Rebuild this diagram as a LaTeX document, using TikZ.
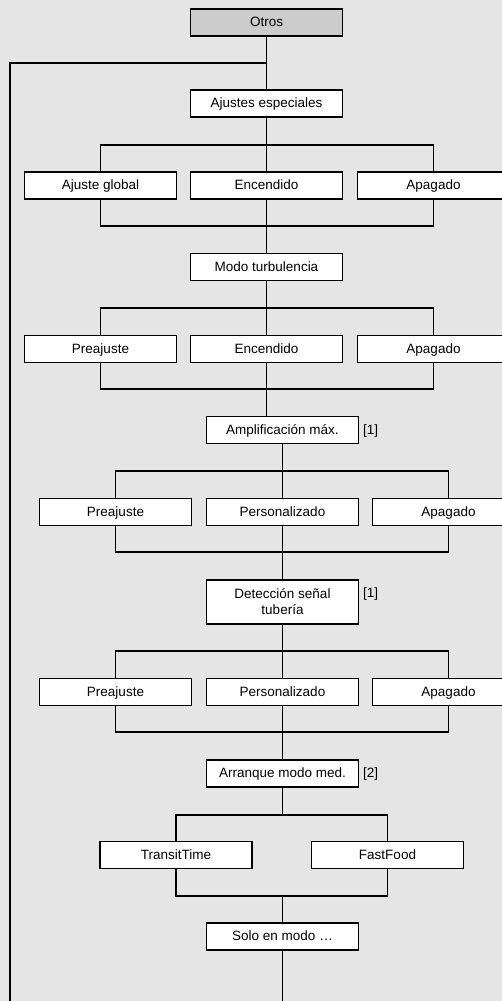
\documentclass[tikz,border=0pt]{standalone}
\usepackage{fontspec}
\setmainfont{Liberation Sans}
\begin{document}
\begin{tikzpicture}[x=1pt,y=-1pt,
  every node/.style={font=\fontsize{13.5}{16}\selectfont},
  box/.style={draw=black,line width=1.6pt,fill=white,minimum width=152pt,minimum height=27pt,inner sep=1pt,align=center,text height=10pt,text depth=1.4pt},
  conn/.style={draw=black,line width=1.6pt,line join=miter},
  note/.style={anchor=west,inner sep=0pt,text height=10pt,text depth=1.4pt}]
\definecolor{bg}{HTML}{E5E5E5}
\definecolor{topfill}{HTML}{CCCCCC}
\useasboundingbox (0,0) rectangle (502,1001);
\clip (0,0) rectangle (502,1001);
\fill[bg] (0,0) rectangle (502,1001);

% nodes
\node[box,fill=topfill] (otros) at (266.5,22.5) {Otros};
\node[box] (aj) at (266.5,103.5) {Ajustes especiales};
\node[box] (ag) at (100.5,185.5) {Ajuste global};
\node[box] (enc1) at (266.5,185.5) {Encendido};
\node[box] (apa1) at (433.5,185.5) {Apagado};
\node[box] (modo) at (266.5,267) {Modo turbulencia};
\node[box] (pre2) at (100.5,349) {Preajuste};
\node[box] (enc2) at (266.5,349) {Encendido};
\node[box] (apa2) at (433.5,349) {Apagado};
\node[box] (amp) at (282.5,430) {Amplificación máx.};
\node[note] (n1) at (363,430) {[1]};
\node[box] (pre3) at (115.5,512) {Preajuste};
\node[box] (per3) at (282.5,512) {Personalizado};
\node[box] (apa3) at (448.5,512) {Apagado};
\node[box,minimum height=44pt,text height=,text depth=] (det) at (282.5,602) {Detección señal\\tubería};
\node[note] (n2) at (363,593) {[1]};
\node[box] (pre4) at (115.5,692) {Preajuste};
\node[box] (per4) at (282.5,692) {Personalizado};
\node[box] (apa4) at (448.5,692) {Apagado};
\node[box] (arr) at (282.5,773.5) {Arranque modo med.};
\node[note] (n3) at (363,773.5) {[2]};
\node[box] (tt) at (176,855) {TransitTime};
\node[box] (ff) at (387.5,855) {FastFood};
\node[box] (solo) at (282.5,936.5) {Solo en modo …};

% coordinates
\coordinate (top) at (266.5,63);
\coordinate (leftc) at (10,63);
\coordinate (leftend) at (10,1010);
\coordinate (b1) at (266.5,145);
\coordinate (m1) at (266.5,226);
\coordinate (b2) at (266.5,308);
\coordinate (m2) at (266.5,389);
\coordinate (b3) at (282.5,471);
\coordinate (m3) at (282.5,552);
\coordinate (b4) at (282.5,651);
\coordinate (m4) at (282.5,732);
\coordinate (b5) at (282.5,815);
\coordinate (m5) at (282.5,896);
\coordinate (endc) at (282.5,1010);

% connectors
\draw[conn] (otros.south) -- (aj.north);
\draw[conn] (top) -- (leftc) -- (leftend);
\draw[conn] (aj.south) -- (b1);
\draw[conn] (ag.north) -- (ag.north|-b1) -- (apa1.north|-b1) -- (apa1.north);
\draw[conn] (enc1.north) -- (b1);
\draw[conn] (ag.south) -- (ag.south|-m1) -- (apa1.south|-m1) -- (apa1.south);
\draw[conn] (enc1.south) -- (m1) -- (modo.north);
\draw[conn] (modo.south) -- (b2);
\draw[conn] (pre2.north) -- (pre2.north|-b2) -- (apa2.north|-b2) -- (apa2.north);
\draw[conn] (enc2.north) -- (b2);
\draw[conn] (pre2.south) -- (pre2.south|-m2) -- (apa2.south|-m2) -- (apa2.south);
\draw[conn] (enc2.south) -- (m2) -- (m2|-amp.north);
\draw[conn] (amp.south) -- (b3);
\draw[conn] (pre3.north) -- (pre3.north|-b3) -- (apa3.north|-b3) -- (apa3.north);
\draw[conn] (per3.north) -- (b3);
\draw[conn] (pre3.south) -- (pre3.south|-m3) -- (apa3.south|-m3) -- (apa3.south);
\draw[conn] (per3.south) -- (m3) -- (det.north);
\draw[conn] (det.south) -- (b4);
\draw[conn] (pre4.north) -- (pre4.north|-b4) -- (apa4.north|-b4) -- (apa4.north);
\draw[conn] (per4.north) -- (b4);
\draw[conn] (pre4.south) -- (pre4.south|-m4) -- (apa4.south|-m4) -- (apa4.south);
\draw[conn] (per4.south) -- (m4) -- (arr.north);
\draw[conn] (arr.south) -- (b5);
\draw[conn] (tt.north) -- (tt.north|-b5) -- (ff.north|-b5) -- (ff.north);
\draw[conn] (tt.south) -- (tt.south|-m5) -- (ff.south|-m5) -- (ff.south);
\draw[conn] (m5) -- (solo.north);
\draw[conn] (solo.south) -- (endc);
\end{tikzpicture}
\end{document}
